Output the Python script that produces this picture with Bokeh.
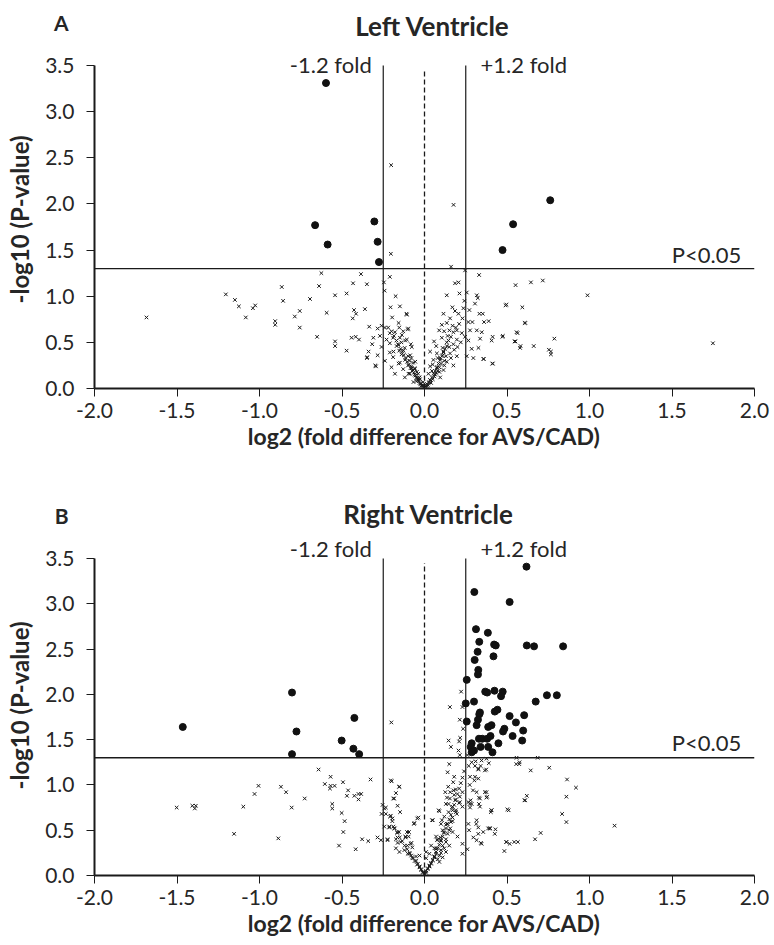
from bokeh.plotting import figure
from bokeh.layouts import column
from bokeh.models import Label, Span, FixedTicker
from bokeh.embed import file_html
from bokeh.resources import INLINE

# ---------------- data ----------------
x_ticks = [-2.0, -1.5, -1.0, -0.5, 0.0, 0.5, 1.0, 1.5, 2.0]
x_tick_labels = ["-2.0", "-1.5", "-1.0", "-0.5", "0.0", "0.5", "1.0", "1.5", "2.0"]
y_ticks = [0.0, 0.5, 1.0, 1.5, 2.0, 2.5, 3.0, 3.5]
y_tick_labels = ["0.0", "0.5", "1.0", "1.5", "2.0", "2.5", "3.0", "3.5"]
panel_letters = ["A", "B"]
panel_titles = ["Left Ventricle", "Right Ventricle"]
fold_cut = 0.25
p_cut = 1.3

# Left ventricle, significant (filled circles)
lv_sig_x = [-0.597, -0.663, -0.304, -0.587, -0.284, -0.276, 0.762, 0.537, 0.473]
lv_sig_y = [3.31, 1.77, 1.81, 1.56, 1.59, 1.37, 2.04, 1.78, 1.50]

# Left ventricle, not significant (crosses)
lv_ns_x = [
    -0.202, -0.204, -0.625, -0.385, -0.210, -0.246, -0.433, -0.349, -0.865, -0.639,
    -0.242, -1.204, -1.149, -0.857, -0.694, -0.542, -0.472, -0.175, -1.125, -1.040,
    -1.026, -0.206, -0.149, -1.685, -1.083, -0.905, -0.905, -0.786, -0.756, -0.593,
    -0.427, -0.415, -0.435, -0.361, -0.196, -0.109, -0.756, -0.651, -0.542, -0.542,
    -0.472, -0.442, -0.417, -0.397, -0.335, -0.310, -0.317, -0.339, -0.347, -0.298,
    -0.284, -0.260, -0.270, -0.260, -0.284, -0.240, -0.230, -0.210, -0.179, -0.153,
    -0.099, -0.129, -0.190, -0.149, -0.117, -0.083, -0.210, -0.169, -0.153, -0.210,
    -0.190, -0.139, -0.099, -0.079, -0.240, -0.200, -0.149, -0.129, -0.099, -0.069,
    -0.058, -0.038, -0.089, -0.028, -0.049, -0.008, -0.179, -0.119,
    -0.107, -0.157, -0.101, -0.137, -0.107, -0.077, -0.127, -0.157, -0.188, -0.087,
    -0.056, -0.117, -0.157, -0.077, -0.046, -0.097, -0.036, -0.067, -0.022, -0.010,
    -0.294, -0.349,
    0.161, 0.246, 0.331, 0.552, 0.206, 0.185, 0.135, 0.212, 0.256, 0.317,
    0.323, 0.306, 0.242, 0.169, 0.185, 0.115, 0.206, 0.236, 0.272, 0.333,
    0.353, 0.492, 0.593, 0.155, 0.135, 0.105, 0.266, 0.290, 0.361, 0.389,
    0.607, 0.089, 0.119, 0.151, 0.196, 0.226, 0.246, 0.276, 0.317, 0.347,
    0.337, 0.413, 0.472, 0.558, 0.407, 0.546, 0.579, 0.058, 0.071, 0.105,
    0.135, 0.175, 0.196, 0.266, 0.286, 0.327, 0.357, 0.411, 0.296, 0.256,
    0.034, 0.075, 0.115, 0.155, 0.196, 0.054, 0.095, 0.135, 0.175, 0.034,
    0.075, 0.115, 0.024, 0.065, 0.095, 0.034, 0.014, 0.008,
    0.176, 0.645, 0.717, 0.988, 0.496, 0.611, 0.564, 0.787, 0.551, 0.582,
    0.662, 0.754, 0.766, 0.766, 1.748, 0.475, 0.414, 0.359,
    -0.020, 0.020, -0.030, 0.030, 0.000, 0.010, -0.010, 0.040, -0.040, 0.050,
    0.060, -0.050, 0.070, -0.060, 0.080, 0.045, 0.090, 0.100, 0.120, -0.070,
    -0.080, 0.130, 0.160, 0.180, 0.200, 0.220, 0.150, 0.110,
    -0.015, -0.025, -0.035, -0.045, -0.055, -0.065, -0.075, -0.085, -0.095, -0.105,
    -0.115, -0.125, -0.135, -0.145, -0.160, -0.170, -0.185, -0.200, -0.220, -0.030,
    -0.060, -0.090, -0.120, -0.140,
    0.015, 0.025, 0.035, 0.045, 0.055, 0.065, 0.075, 0.085, 0.095, 0.105,
    0.115, 0.125, 0.135, 0.145, 0.160, 0.175, 0.190, 0.210, 0.230, 0.050,
    0.080, 0.110, 0.140, 0.170, 0.120, 0.090,
]
lv_ns_y = [
    2.42, 1.46, 1.25, 1.24, 1.21, 1.15, 1.14, 1.13, 1.10, 1.11,
    1.06, 1.02, 0.96, 0.95, 0.97, 1.01, 1.03, 1.00, 0.89, 0.87,
    0.90, 0.88, 0.89, 0.77, 0.77, 0.73, 0.69, 0.78, 0.84, 0.82,
    0.85, 0.81, 0.76, 0.86, 0.77, 0.81, 0.66, 0.56, 0.51, 0.46,
    0.41, 0.55, 0.56, 0.53, 0.67, 0.55, 0.48, 0.40, 0.34, 0.25,
    0.65, 0.68, 0.57, 0.45, 0.36, 0.66, 0.53, 0.60, 0.61, 0.66,
    0.65, 0.62, 0.55, 0.55, 0.52, 0.48, 0.49, 0.46, 0.41, 0.39,
    0.34, 0.37, 0.35, 0.33, 0.30, 0.23, 0.28, 0.21, 0.25, 0.28,
    0.21, 0.16, 0.16, 0.10, 0.08, 0.07, 0.16, 0.12,
    0.80, 0.71, 0.64, 0.58, 0.53, 0.45, 0.41, 0.47, 0.40, 0.36,
    0.29, 0.31, 0.27, 0.22, 0.18, 0.16, 0.11, 0.07, 0.05, 0.02,
    0.24, 0.33,
    1.32, 1.28, 1.23, 1.12, 1.15, 1.14, 1.01, 1.03, 1.04, 1.01,
    0.98, 0.92, 0.95, 0.88, 0.84, 0.81, 0.81, 0.87, 0.85, 0.81,
    0.81, 0.90, 0.88, 0.76, 0.71, 0.69, 0.72, 0.72, 0.72, 0.73,
    0.71, 0.63, 0.62, 0.63, 0.63, 0.60, 0.56, 0.63, 0.63, 0.61,
    0.54, 0.56, 0.56, 0.61, 0.52, 0.51, 0.44, 0.51, 0.46, 0.55,
    0.50, 0.48, 0.53, 0.52, 0.43, 0.44, 0.32, 0.27, 0.33, 0.35,
    0.40, 0.38, 0.40, 0.38, 0.35, 0.31, 0.33, 0.29, 0.25, 0.24,
    0.22, 0.20, 0.16, 0.15, 0.12, 0.09, 0.05, 0.02,
    1.99, 1.15, 1.17, 1.01, 0.91, 0.71, 0.60, 0.54, 0.51, 0.46,
    0.46, 0.42, 0.37, 0.40, 0.49, 0.57, 0.27, 0.32,
    0.03, 0.04, 0.06, 0.07, 0.01, 0.03, 0.04, 0.06, 0.09, 0.10,
    0.13, 0.12, 0.17, 0.15, 0.19, 0.19, 0.23, 0.27, 0.25, 0.20,
    0.24, 0.35, 0.33, 0.42, 0.45, 0.50, 0.45, 0.36,
    0.03, 0.05, 0.08, 0.11, 0.14, 0.17, 0.19, 0.22, 0.26, 0.29,
    0.33, 0.36, 0.40, 0.43, 0.48, 0.52, 0.57, 0.62, 0.66, 0.12,
    0.22, 0.30, 0.44, 0.50,
    0.03, 0.06, 0.09, 0.12, 0.16, 0.19, 0.23, 0.27, 0.31, 0.35,
    0.39, 0.43, 0.46, 0.52, 0.56, 0.61, 0.66, 0.70, 0.76, 0.26,
    0.33, 0.44, 0.57, 0.68, 0.30, 0.18,
]

# Right ventricle, significant (filled circles)
rv_sig_x = [
    -1.465, -0.803, -0.776, -0.803, -0.425, -0.502, -0.431, -0.396,
    0.618, 0.302, 0.516, 0.312, 0.384, 0.332, 0.422, 0.432, 0.620, 0.664,
    0.840, 0.322, 0.418, 0.304, 0.326, 0.324, 0.256, 0.368, 0.380, 0.424,
    0.474, 0.464, 0.742, 0.802, 0.674, 0.300, 0.250, 0.336, 0.332, 0.324,
    0.256, 0.426, 0.442, 0.516, 0.604, 0.554, 0.316, 0.386, 0.406, 0.484,
    0.476, 0.598, 0.534, 0.592, 0.330, 0.350, 0.380, 0.400, 0.448, 0.286,
    0.280, 0.300, 0.340, 0.386, 0.412, 0.286,
]
rv_sig_y = [
    1.64, 2.02, 1.59, 1.34, 1.74, 1.49, 1.40, 1.34,
    3.41, 3.13, 3.02, 2.72, 2.68, 2.58, 2.55, 2.54, 2.54, 2.53,
    2.53, 2.47, 2.42, 2.38, 2.27, 2.22, 2.16, 2.03, 2.02, 2.04,
    2.03, 1.98, 1.99, 1.99, 1.92, 1.92, 1.90, 1.80, 1.78, 1.72,
    1.70, 1.81, 1.83, 1.76, 1.77, 1.69, 1.66, 1.64, 1.66, 1.62,
    1.59, 1.60, 1.54, 1.49, 1.51, 1.51, 1.51, 1.54, 1.46, 1.46,
    1.42, 1.38, 1.42, 1.42, 1.36, 1.36,
]

# Right ventricle, not significant (crosses)
rv_ns_x = [
    -0.201, -0.642, -0.327, -0.569, -0.604, -0.569, -0.545, -0.573, -0.494, -1.006,
    -0.870, -0.839, -1.030, -0.726, -0.463, -0.470, -0.425, -0.400, -0.384, -0.400,
    -0.199, -0.152, -0.173, -0.189, -1.502, -1.407, -1.386, -1.392, -1.098, -0.805,
    -0.559, -0.559, -0.502, -0.484, -0.492, -1.154, -0.886, -0.518, -0.417, -0.378,
    -0.341, -0.285, -0.254, -0.234, -0.163, -0.148, -0.260, -0.209, -0.195, -0.244,
    -0.213, -0.189, -0.165, -0.106, -0.061, -0.037, -0.224, -0.173, -0.163, -0.116,
    -0.096, -0.079, -0.173, -0.152, -0.122, -0.102, -0.081, -0.051, -0.030, 0.010,
    0.222, 0.154, 0.230, 0.214, 0.234, 0.146, 0.160, 0.216, 0.210, 0.206,
    0.214, 0.260, 0.558, 0.574, 0.686, 0.644, 0.756, 0.864, 0.918, 0.860,
    0.610, 0.620, 0.834, 0.860, 1.152, 0.510, 0.406, 0.402, 0.398, 0.430,
    0.704, 0.670, 0.496, 0.544, 0.484, 0.376, 0.380, 0.330, 0.390, 0.340,
    0.326, 0.374, 0.310, 0.268, 0.306, 0.326, 0.274, 0.294, 0.330, 0.280,
    0.274, 0.314, 0.326, 0.270, 0.342, 0.230, 0.260, 0.230, 0.050, 0.090,
    0.140, 0.150, 0.180, 0.174, 0.144, 0.190, 0.180, 0.154, 0.130, 0.170,
    0.190, 0.214, 0.214, 0.230, 0.146, 0.120, 0.170, 0.100, 0.130, 0.160,
    0.110, 0.140, 0.170, 0.200, 0.070, 0.100, 0.130, 0.150, 0.040, 0.070,
    0.100, 0.130, 0.030, 0.060, 0.090, 0.010,
    0.086, 0.126, 0.136, 0.156, 0.176, 0.146, 0.166, 0.186, 0.196, 0.106,
    0.136, 0.156, 0.116, 0.096, 0.076, 0.046, -0.064, -0.044, -0.094, -0.204,
    -0.194, -0.214, -0.184, -0.154, -0.114, -0.084, -0.144, -0.244, -0.234, -0.204,
    -0.154, -0.184, -0.264, -0.224, -0.164, -0.104, -0.074,
    0.286, 0.306, 0.326, 0.346, 0.366, 0.376, 0.556, 0.576, 0.276, 0.302,
    0.316, 0.366, 0.376, 0.336, 0.266, 0.286, 0.276, 0.336, 0.406, 0.502,
    0.606, 0.266, 0.316, 0.326, 0.356, 0.396, 0.426, 0.496, 0.516, 0.566,
    0.296, 0.316, 0.346, 0.386,
    0.000, 0.010, -0.010, 0.020, -0.020, 0.030, -0.030, 0.040, -0.040, 0.050,
    -0.050, 0.060, 0.080, -0.070, 0.100, 0.120, -0.090, 0.070, 0.090, 0.110,
    -0.010, -0.020, -0.030, -0.045, -0.060, -0.075, -0.090, -0.105, -0.120, -0.135,
    -0.150, -0.165, -0.180,
    0.010, 0.020, 0.030, 0.040, 0.050, 0.060, 0.070, 0.080, 0.090, 0.100,
    0.110, 0.120, 0.130, 0.140, 0.150, 0.160, 0.170, 0.180, 0.190, 0.200,
    0.210, 0.220, 0.230, 0.240, 0.110, 0.130, 0.150, 0.170, 0.190, 0.210,
    0.230, 0.080, 0.060,
]
rv_ns_y = [
    1.69, 1.17, 1.06, 1.09, 1.01, 0.99, 0.99, 0.96, 1.03, 0.99,
    0.98, 0.92, 0.90, 0.85, 0.94, 0.88, 0.88, 0.90, 0.90, 0.84,
    1.04, 0.98, 0.91, 0.85, 0.75, 0.77, 0.77, 0.74, 0.76, 0.75,
    0.79, 0.74, 0.69, 0.60, 0.48, 0.46, 0.41, 0.33, 0.29, 0.40,
    0.38, 0.42, 0.78, 0.75, 0.77, 0.70, 0.68, 0.65, 0.60, 0.54,
    0.54, 0.54, 0.48, 0.48, 0.58, 0.64, 0.40, 0.40, 0.36, 0.43,
    0.43, 0.36, 0.30, 0.26, 0.28, 0.24, 0.22, 0.21, 0.22, 0.26,
    2.03, 1.86, 1.86, 1.72, 1.62, 1.49, 1.42, 1.52, 1.48, 1.38,
    1.33, 1.33, 1.30, 1.23, 1.30, 1.16, 1.19, 1.06, 0.97, 0.87,
    0.83, 0.88, 0.68, 0.59, 0.55, 0.72, 0.72, 0.70, 0.52, 0.51,
    0.47, 0.40, 0.37, 0.37, 0.27, 0.92, 0.87, 0.86, 1.24, 1.21,
    1.17, 1.17, 1.26, 1.21, 1.09, 1.07, 1.00, 0.94, 0.79, 0.83,
    0.79, 0.57, 0.46, 0.50, 0.36, 0.35, 0.29, 0.24, 0.61, 0.71,
    1.14, 1.23, 1.09, 1.03, 0.98, 0.95, 0.89, 0.85, 0.79, 0.76,
    0.72, 0.87, 0.81, 0.76, 0.70, 0.65, 0.64, 0.57, 0.56, 0.59,
    0.50, 0.46, 0.48, 0.43, 0.43, 0.39, 0.37, 0.33, 0.33, 0.30,
    0.28, 0.26, 0.24, 0.21, 0.22, 0.19,
    0.72, 0.92, 0.86, 0.92, 0.94, 0.79, 0.75, 0.83, 0.68, 0.61,
    0.57, 0.52, 0.48, 0.42, 0.39, 0.61, 0.57, 0.63, 0.48, 0.66,
    0.63, 0.53, 0.52, 0.48, 0.42, 0.35, 0.37, 0.74, 0.68, 1.05,
    0.98, 0.85, 0.39, 0.39, 0.42, 0.33, 0.31,
    1.25, 1.21, 1.18, 1.27, 1.16, 1.29, 1.23, 1.25, 1.09, 1.05,
    0.92, 0.92, 0.86, 0.85, 0.81, 0.79, 0.75, 0.76, 0.72, 0.73,
    0.83, 0.57, 0.61, 0.53, 0.48, 0.52, 0.46, 0.37, 0.35, 0.37,
    0.42, 0.39, 0.35, 0.52,
    0.02, 0.05, 0.04, 0.08, 0.07, 0.11, 0.10, 0.14, 0.13, 0.17,
    0.16, 0.20, 0.18, 0.19, 0.25, 0.30, 0.24, 0.24, 0.15, 0.20,
    0.03, 0.06, 0.09, 0.12, 0.16, 0.20, 0.25, 0.29, 0.33, 0.38,
    0.42, 0.47, 0.52,
    0.03, 0.07, 0.10, 0.13, 0.17, 0.21, 0.26, 0.30, 0.34, 0.38,
    0.43, 0.47, 0.52, 0.57, 0.62, 0.67, 0.72, 0.78, 0.84, 0.90,
    0.96, 1.02, 1.08, 1.15, 0.33, 0.40, 0.50, 0.60, 0.70, 0.80,
    0.92, 0.40, 0.30,
]

# ---------------- style / layout ----------------
FONT = "Lato"
TXT = "#262626"
LINE = "#1a1a1a"
W_LEFT, W_FRAME, W_RIGHT = 94, 660, 18
PX_PER_X = W_FRAME / 4.0


def make_header(letter, title, h, title_y, letter_y, title_x_px):
    p = figure(frame_width=W_FRAME, frame_height=h,
               min_border_left=W_LEFT, min_border_right=W_RIGHT,
               min_border_top=0, min_border_bottom=0,
               x_range=(-2, 2), y_range=(0, h), x_axis_type=None,
               output_backend="svg", toolbar_location=None)
    p.outline_line_color = None
    p.ygrid.visible = False
    ya = p.yaxis[0]
    tick = int(h - letter_y)
    ya.ticker = FixedTicker(ticks=[tick])
    ya.major_label_overrides = {tick: letter}
    ya.axis_line_color = None
    ya.major_tick_line_color = None
    ya.minor_tick_line_color = None
    ya.major_tick_out = 0
    ya.major_tick_in = 0
    ya.major_label_standoff = 26
    ya.major_label_text_font = FONT
    ya.major_label_text_font_size = "21px"
    ya.major_label_text_font_style = "bold"
    ya.major_label_text_color = TXT
    p.add_layout(Label(x=(title_x_px - (W_LEFT + W_FRAME / 2)) / PX_PER_X,
                       y=h - title_y, text=title,
                       text_align="center", text_baseline="middle",
                       text_font=FONT, text_font_size="26px",
                       text_font_style="bold", text_color=TXT))
    return p


def make_panel(sig_x, sig_y, ns_x, ns_y, frame_h, px_3p5, bottom_border,
               fold_px, p_px):
    # px_3p5: pixel distance from the x axis up to y = 3.5
    scale = px_3p5 / 3.5
    y_top = frame_h / scale
    p = figure(frame_width=W_FRAME, frame_height=frame_h,
               min_border_left=W_LEFT, min_border_right=W_RIGHT,
               min_border_top=0, min_border_bottom=bottom_border,
               x_range=(-2, 2), y_range=(0, y_top),
               output_backend="svg", toolbar_location=None)
    p.outline_line_color = None
    p.xgrid.visible = False
    p.ygrid.visible = False

    for ax in (p.xaxis[0], p.yaxis[0]):
        ax.axis_line_color = LINE
        ax.axis_line_width = 2
        ax.major_tick_line_color = LINE
        ax.major_tick_line_width = 1
        ax.major_tick_out = 8
        ax.major_tick_in = 0
        ax.minor_tick_out = 0
        ax.minor_tick_in = 0
        ax.major_label_text_font = FONT
        ax.major_label_text_font_size = "21px"
        ax.major_label_text_color = TXT
        ax.axis_label_text_font = FONT
        ax.axis_label_text_font_size = "23px"
        ax.axis_label_text_font_style = "bold"
        ax.axis_label_text_color = TXT
    p.yaxis.axis_label_text_font_size = "24px"

    p.yaxis.bounds = (0, 3.5)
    p.xaxis.ticker = FixedTicker(ticks=x_ticks)
    p.xaxis.major_label_overrides = {t: s for t, s in zip(x_ticks, x_tick_labels)}
    p.yaxis.ticker = FixedTicker(ticks=y_ticks)
    p.yaxis.major_label_overrides = {t: s for t, s in zip(y_ticks, y_tick_labels)}
    p.xaxis.axis_label = "log2 (fold difference for AVS/CAD)"
    p.yaxis.axis_label = "-log10 (P-value)"
    p.xaxis.major_label_standoff = 6
    p.xaxis.axis_label_standoff = 1
    p.yaxis.major_label_standoff = 12
    p.yaxis.axis_label_standoff = 8

    # reference lines
    p.add_layout(Span(location=p_cut, dimension="width",
                      line_color=LINE, line_width=1.3))
    p.segment(x0=[-fold_cut, fold_cut], y0=[0, 0], x1=[-fold_cut, fold_cut],
              y1=[3.5, 3.5], line_color=LINE, line_width=1.2)
    p.segment(x0=[0], y0=[0], x1=[0], y1=[3.45], line_color=LINE,
              line_width=1.3, line_dash="5 3")

    # points
    p.scatter(ns_x, ns_y, marker="x", size=5, line_color=LINE, line_width=1)
    p.scatter(sig_x, sig_y, marker="circle", size=7, fill_color="#111111",
              line_color="#111111")

    # texts
    fy = 3.5 + fold_px / scale
    p.add_layout(Label(x=-0.32, y=fy, text="-1.2 fold",
                       text_align="right", text_baseline="middle",
                       text_font=FONT, text_font_size="22px", text_color=TXT))
    p.add_layout(Label(x=0.34, y=fy, text="+1.2 fold",
                       text_align="left", text_baseline="middle",
                       text_font=FONT, text_font_size="22px", text_color=TXT))
    p.add_layout(Label(x=1.92, y=p_cut + p_px / scale, text="P<0.05",
                       text_align="right", text_baseline="alphabetic",
                       text_font=FONT, text_font_size="22px", text_color=TXT))
    return p


hA = make_header(panel_letters[0], panel_titles[0], h=50, title_y=25,
                 letter_y=22, title_x_px=432)
pA = make_panel(lv_sig_x, lv_sig_y, lv_ns_x, lv_ns_y,
                frame_h=338, px_3p5=323, bottom_border=90, fold_px=1, p_px=14)
hB = make_header(panel_letters[1], panel_titles[1], h=57, title_y=35,
                 letter_y=37, title_x_px=428)
pB = make_panel(rv_sig_x, rv_sig_y, rv_ns_x, rv_ns_y,
                frame_h=340, px_3p5=317, bottom_border=68, fold_px=10, p_px=15)

layout = column(hA, pA, hB, pB, spacing=0)
open("out.html", "w").write(file_html(layout, INLINE))
